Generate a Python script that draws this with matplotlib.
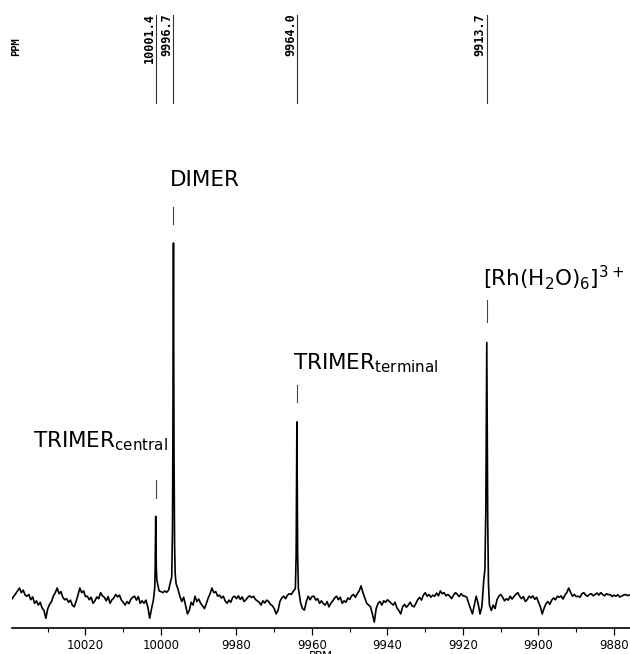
"""
Rh-103 NMR spectrum of hydrolytic rhodium(III) species.
"""

import numpy as np
import matplotlib
matplotlib.use("Agg")
import matplotlib.pyplot as plt
from matplotlib.ticker import MultipleLocator

plt.rcParams['font.family'] = ['DejaVu Sans']
plt.rcParams['mathtext.fontset'] = 'dejavusans'
plt.rcParams['mathtext.default'] = 'regular'

# Baseline (noise), 0.5 ppm steps from 10039.5 down to 9875.5
BASE_START = 10039.5
BASE_STEP = 0.5
baseline = [
    -0.3, 0.5, 1.2, 2.0, 2.8, 1.5, 2.2, 0.8, 0.5, 1.0,          # 10039.5 - 10035.0
    -0.5, 0.3, -1.5, -0.8, -2.0, -1.2, -2.8, -3.5, -5.7, -3.0,  # 10034.5 - 10030.0
    -1.8, -1.0, 0.6, 1.5, 2.8, 1.2, 1.8, 0.2, -0.5, -0.2,       # 10029.5 - 10025.0
    -1.2, -0.6, -2.0, -2.5, -1.0, 0.8, 2.8, 1.5, 2.0, 0.4,      # 10024.5 - 10020.0
    0.5, -0.5, 0.2, -1.5, -0.8, 0.3, -0.2, 1.5, 0.6, 0.2,       # 10019.5 - 10015.0
    -0.8, 0.4, -1.5, -0.5, 0.0, 1.0, 0.3, 0.8, -0.6, -1.2,      # 10014.5 - 10010.0
    -2.0, -1.0, -1.6, -0.4, 0.2, 0.5, -0.6, 0.4, -1.5, -0.8,    # 10009.5 - 10005.0
    -1.5, -0.6, -2.5, -5.7, -3.0, -0.5, 0.0, 3.0, 2.0, 1.8,     # 10004.5 - 10000.0
    1.5, 2.0, 1.6, 2.2, 4.5, 0.0, 0.0, 4.0, 2.5, 0.5,           # 9999.5 - 9995.0
    -1.0, 0.2, -2.0, -4.5, -3.5, -1.2, -2.0, 0.5, -1.0, -0.3,   # 9994.5 - 9990.0
    -1.5, -2.2, -3.0, -1.6, 0.0, 1.2, 2.8, 1.5, 1.8, 0.5,       # 9989.5 - 9985.0
    0.8, 0.0, 0.5, -0.8, -1.5, -0.6, -1.2, 0.2, 0.5, -0.2,      # 9984.5 - 9980.0
    0.6, -0.4, 0.3, -1.0, -0.5, 0.2, 0.6, 0.1, 0.5, -0.4,       # 9979.5 - 9975.0
    -0.8, -1.2, -2.0, -0.8, -1.4, -0.6, -1.0, -1.8, -2.2, -3.0, # 9974.5 - 9970.0
    -4.5, -3.5, -1.0, 0.0, 0.5, -0.2, 0.8, 1.2, 1.0, 1.8,       # 9969.5 - 9965.0
    2.5, 0.0, 2.0, -1.5, -3.0, -3.4, -1.0, 0.5, -0.5, 0.4,      # 9964.5 - 9960.0
    0.5, -0.6, -0.2, -1.5, -0.8, -1.6, -2.0, -1.0, -2.5, -1.5,  # 9959.5 - 9955.0
    -0.8, 0.0, 0.5, -0.5, 0.2, -1.5, -0.8, -1.2, 0.0, -0.4,     # 9954.5 - 9950.0
    0.6, 1.0, 0.2, 1.2, 2.0, 3.4, 1.5, 0.0, -1.5, -2.0,         # 9949.5 - 9945.0
    -2.5, -4.5, -6.8, -3.0, -1.5, -1.0, -2.0, -0.8, -1.2, -0.5, # 9944.5 - 9940.0
    -1.0, -1.5, -2.0, -1.2, -2.8, -3.5, -4.5, -2.5, -1.8, -2.6, # 9939.5 - 9935.0
    -2.0, -1.2, -2.2, -2.5, -1.6, -0.5, 0.2, -0.6, 0.8, 1.5,    # 9934.5 - 9930.0
    0.5, 1.0, 0.2, 0.8, 0.5, 1.4, 0.6, 2.0, 1.2, 1.5,           # 9929.5 - 9925.0
    0.6, 1.0, 0.5, -0.2, 0.8, 1.5, 1.0, 0.4, 1.2, 0.6,          # 9924.5 - 9920.0
    0.5, 0.2, -1.5, -3.0, -4.5, -2.0, 0.5, -1.5, -4.5, -2.5,    # 9919.5 - 9915.0
    5.0, 0.0, 0.0, -2.0, -3.5, -2.0, -3.0, -0.5, 0.5, 1.0,      # 9914.5 - 9910.0
    0.2, -0.8, -0.2, -0.6, 0.5, -0.3, 0.4, 1.0, 1.5, 0.5,       # 9909.5 - 9905.0
    -0.2, 0.4, -1.0, -0.5, 0.5, 0.0, 0.6, -0.4, 0.2, -1.2,      # 9904.5 - 9900.0
    -2.5, -4.5, -2.8, -1.6, -1.0, -1.8, -0.6, 0.0, -0.5, 0.5,   # 9899.5 - 9895.0
    0.2, 0.6, -0.3, 0.8, 1.5, 2.8, 1.6, 0.5, 1.0, 0.4,          # 9894.5 - 9890.0
    0.5, 0.2, 1.2, 1.5, 0.8, 0.5, 1.0, 1.2, 0.6, 1.0,           # 9889.5 - 9885.0
    1.4, 0.8, 1.5, 1.0, 0.6, 1.2, 0.9, 1.0, 0.4, 0.8,           # 9884.5 - 9880.0
    0.5, 0.9, 0.3, 0.5, 0.8, 1.0, 0.7, 0.8, 1.0,                # 9879.5 - 9875.5
]

# Peak positions (ppm) and the points that make up each line shape
peak_ppm = [10001.4, 9996.7, 9964.0, 9913.7]
peak_label_text = ['10001.4', '9996.7', '9964.0', '9913.7']

central_x = [10001.65, 10001.55, 10001.4, 10001.25, 10001.1]
central_y = [3.0, 8.0, 23.0, 9.0, 5.0]
dimer_x = [9997.15, 9996.95, 9996.85, 9996.7, 9996.55, 9996.4, 9996.25]
dimer_y = [6.0, 20.0, 45.0, 100.0, 40.0, 15.0, 7.0]
terminal_x = [9964.4, 9964.2, 9964.0, 9963.8, 9963.6]
terminal_y = [3.0, 12.0, 49.6, 12.0, 2.5]
rh_x = [9914.2, 9913.95, 9913.7, 9913.45, 9913.25]
rh_y = [8.0, 25.0, 72.0, 22.0, 4.0]

# Species labels: text, left ppm, baseline height, marker range
species = ['TRIMER$_{central}$', 'DIMER', 'TRIMER$_{terminal}$',
           '[Rh(H$_2$O)$_6$]$^{3+}$']
species_x = [10033.9, 9997.6, 9965.0, 9914.7]
species_y = [42.5, 116.1, 64.5, 87.9]
marker_lo = [28.2, 105.4, 55.2, 77.7]
marker_hi = [33.2, 110.1, 60.0, 83.9]


def build_spectrum():
    base = np.array(baseline)
    base_x = BASE_START - BASE_STEP * np.arange(len(base))
    centers = np.array(peak_ppm)
    keep = np.all(np.abs(base_x[:, None] - centers[None, :]) > 0.45, axis=1)
    x = np.concatenate([base_x[keep], central_x, dimer_x, terminal_x, rh_x])
    y = np.concatenate([base[keep], central_y, dimer_y, terminal_y, rh_y])
    order = np.argsort(-x)
    return x[order], y[order]


def main():
    fig = plt.figure(figsize=(6.3, 6.54), dpi=100)
    ax = fig.add_axes([12 / 630, 1 - 627.7 / 654, 618 / 630, 627.7 / 654])

    x, y = build_spectrum()
    ax.plot(x, y, color='black', linewidth=1.2)

    ax.set_xlim(10039.47, 9875.76)
    ax.set_ylim(-8.37, 168.45)

    for side in ['left', 'right', 'top']:
        ax.spines[side].set_visible(False)
    ax.spines['bottom'].set_linewidth(1.2)
    ax.set_yticks([])
    ax.xaxis.set_major_locator(MultipleLocator(20))
    ax.xaxis.set_minor_locator(MultipleLocator(10))
    ax.tick_params(axis='x', which='major', direction='out', length=5,
                   width=0.9, labelsize=8.5, pad=3)
    ax.tick_params(axis='x', which='minor', direction='out', length=3, width=0.8)
    ax.set_xlabel('PPM', fontsize=8.5, labelpad=-1)

    # species labels with their short markers
    for txt, lx, ly, px, lo, hi in zip(species, species_x, species_y,
                                       peak_ppm, marker_lo, marker_hi):
        ax.text(lx, ly, txt, fontsize=15.5, ha='left', va='baseline')
        ax.plot([px, px], [lo, hi], color='#444444', linewidth=0.8)

    # peak list at the top
    ax.text(10038.3, 155.2, 'PPM', rotation=90, ha='center', va='center',
            family='DejaVu Sans Mono', fontweight='bold', fontsize=7.5)
    for px, txt in zip(peak_ppm, peak_label_text):
        ax.plot([px, px], [139.4, 164.2], color='#333333', linewidth=0.8)
        ax.text(px, 164.8, txt, rotation=90, ha='right', va='top',
                family='DejaVu Sans Mono', fontweight='bold', fontsize=8.5)

    fig.savefig('out.png', dpi=100)
    plt.close(fig)


if __name__ == "__main__":
    main()
